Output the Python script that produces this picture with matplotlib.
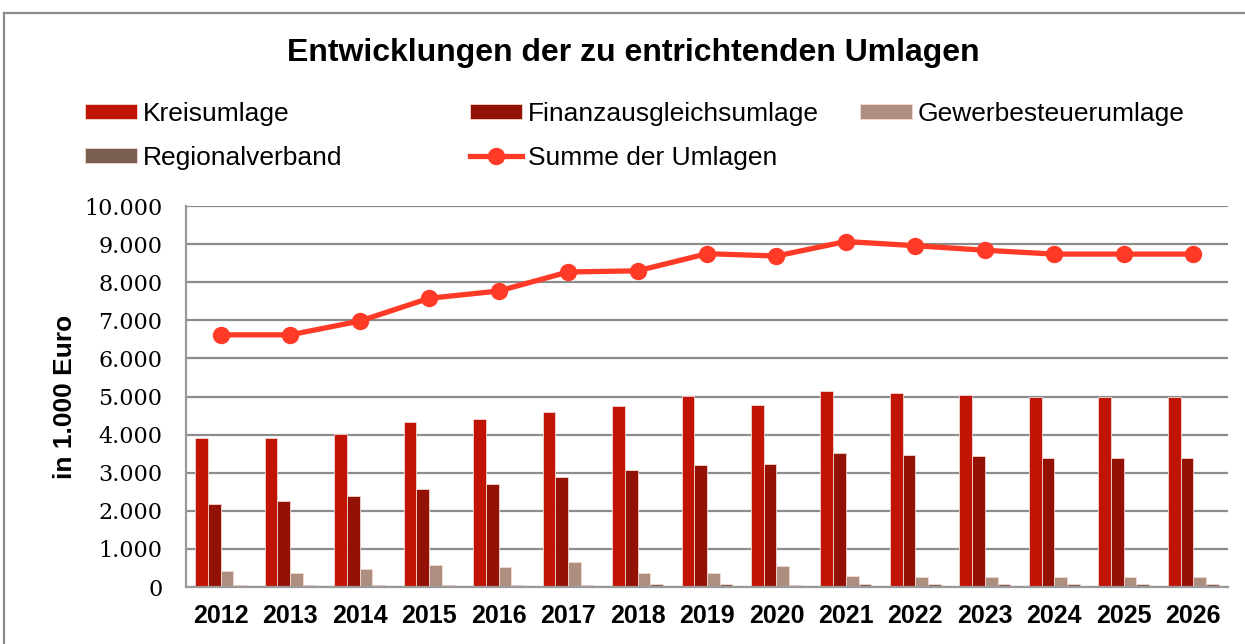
import numpy as np
import matplotlib
matplotlib.use('Agg')
import matplotlib.pyplot as plt
from matplotlib.lines import Line2D

plt.rcParams['font.family'] = ['Liberation Sans', 'DejaVu Sans']

# ===== Daten (in 1.000 Euro) =====
jahre = ['2012', '2013', '2014', '2015', '2016', '2017', '2018', '2019',
         '2020', '2021', '2022', '2023', '2024', '2025', '2026']
kreisumlage = [3920, 3920, 4020, 4330, 4420, 4590, 4750, 5020,
               4780, 5140, 5100, 5050, 4990, 4990, 4990]
finanzausgleich = [2170, 2260, 2390, 2580, 2710, 2900, 3070, 3200,
                   3240, 3530, 3470, 3430, 3390, 3390, 3390]
gewerbesteuer = [430, 360, 470, 570, 520, 650, 380, 380,
                 540, 280, 260, 250, 250, 250, 250]
regionalverband = [50, 50, 50, 50, 50, 50, 70, 70,
                   55, 70, 70, 70, 70, 70, 70]
summe = [6620, 6620, 6980, 7580, 7770, 8270, 8300, 8750,
         8690, 9070, 8960, 8840, 8740, 8740, 8740]

serien = [
    ('Kreisumlage', kreisumlage, '#c01505'),
    ('Finanzausgleichsumlage', finanzausgleich, '#941205'),
    ('Gewerbesteuerumlage', gewerbesteuer, '#ae8e7e'),
    ('Regionalverband', regionalverband, '#7b5e52'),
]

fig = plt.figure(figsize=(12.45, 6.44), dpi=100)
ax = fig.add_axes([0.1494, 0.0885, 0.8369, 0.5915])

x = np.arange(len(jahre))
w = 0.183
bars = []
for i, (name, werte, farbe) in enumerate(serien):
    b = ax.bar(x + (i - 1.5) * w, werte, w, color=farbe, label=name,
               edgecolor='#f3d8d2', linewidth=0.6, zorder=2)
    bars.append(b)

linie, = ax.plot(x, summe, color='#ff3b28', lw=3.8, marker='o',
                 markersize=11.5, label='Summe der Umlagen', zorder=3)

ax.set_xlim(-0.5, len(jahre) - 0.5)
ax.set_ylim(0, 10000)
ax.set_yticks(np.arange(0, 10001, 1000))
ax.set_yticklabels(['0' if v == 0 else f'{v // 1000}.000' for v in range(0, 10001, 1000)],
                   family='DejaVu Serif', fontsize=16)
ax.set_xticks(x)
ax.set_xticklabels(jahre, fontsize=18, fontweight='bold')
ax.tick_params(axis='y', length=0, pad=17)
ax.tick_params(axis='x', length=0, pad=12)
ax.yaxis.grid(True, color='#8c8c8c', lw=1.6)
ax.set_axisbelow(True)
for s in ['top', 'right']:
    ax.spines[s].set_visible(False)
for s in ['left', 'bottom']:
    ax.spines[s].set_color('#9a9a9a')
    ax.spines[s].set_linewidth(1.6)

ax.set_ylabel('in 1.000 Euro', fontsize=19, fontweight='bold', labelpad=5)

fig.text(0.509, 0.918, 'Entwicklungen der zu entrichtenden Umlagen',
         ha='center', va='center', fontsize=23, fontweight='bold')

# Legende in drei Spalten
leg_kw = dict(frameon=False, fontsize=19, handlelength=1.97, handleheight=0.5,
              handletextpad=0.23, labelspacing=0.75, borderpad=0, borderaxespad=0,
              loc='upper left')
spalten = [
    ([bars[0], bars[3]], ['Kreisumlage', 'Regionalverband'], 85),
    ([bars[1], linie], ['Finanzausgleichsumlage', 'Summe der Umlagen'], 470),
    ([bars[2]], ['Gewerbesteuerumlage'], 860),
]
for handles, labels, px in spalten:
    fig.legend(handles, labels, bbox_to_anchor=(px / 1245, 1 - 102 / 644), **leg_kw)

# Rahmen (links und oben)
fig.add_artist(Line2D([0.0032, 0.0032], [0, 0.98], color='#8c8c8c', lw=1.6,
                      transform=fig.transFigure))
fig.add_artist(Line2D([0.0032, 1], [0.98, 0.98], color='#8c8c8c', lw=1.6,
                      transform=fig.transFigure))

fig.savefig('out.png', dpi=100)
